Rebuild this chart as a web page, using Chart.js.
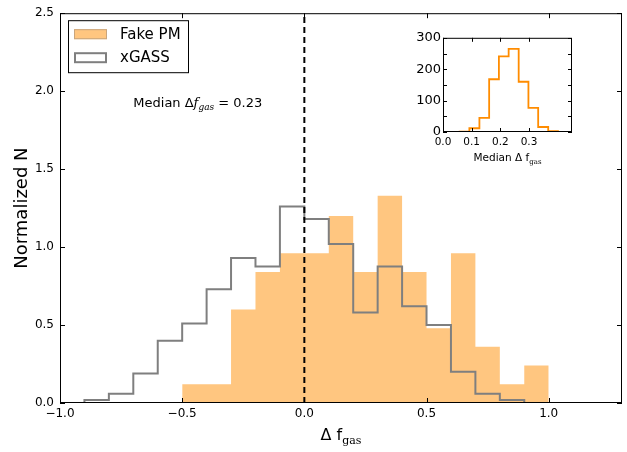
<!DOCTYPE html>
<html lang="en">
<head>
  <meta charset="UTF-8">
  <title>Delta f_gas histogram</title>
  <script src="https://cdn.jsdelivr.net/npm/chart.js@4"></script>
  <style>
    html, body { margin: 0; padding: 0; background: #fff; }
    #wrap { position: relative; width: 627px; height: 452px; }
    #mainChart { position: absolute; left: 0; top: 0; }
    #insetChart { position: absolute; left: 400px; top: 28px; }
  </style>
</head>
<body>
  <div id="wrap">
    <canvas id="mainChart" width="627" height="452"></canvas>
    <canvas id="insetChart" width="185" height="145"></canvas>
  </div>
  <script>
    // main histogram: bin edges and normalized heights
    const fakeEdges = [-0.5, -0.4, -0.3, -0.2, -0.1, 0.0, 0.1, 0.2, 0.3, 0.4, 0.5, 0.6, 0.7, 0.8, 0.9, 1.0];
    const fakeValues = [0.12, 0.12, 0.60, 0.84, 0.96, 0.96, 1.20, 0.84, 1.33, 0.84, 0.48, 0.96, 0.36, 0.12, 0.24];
    const xgassEdges = [-0.9, -0.8, -0.7, -0.6, -0.5, -0.4, -0.3, -0.2, -0.1, 0.0, 0.1, 0.2, 0.3, 0.4, 0.5, 0.6, 0.7, 0.8, 0.9];
    const xgassValues = [0.02, 0.06, 0.19, 0.40, 0.51, 0.73, 0.93, 0.875, 1.26, 1.18, 1.02, 0.58, 0.875, 0.62, 0.50, 0.20, 0.06, 0.02];
    const medianDelta = 0.23;

    // inset: distribution of the median
    const insetEdges = [0.058, 0.092, 0.127, 0.161, 0.195, 0.229, 0.264, 0.298, 0.332, 0.367, 0.401];
    const insetCounts = [1, 12, 45, 168, 241, 265, 160, 77, 16, 3];

    // tick labels
    const mainXTicks = [-1.0, -0.5, 0.0, 0.5, 1.0];
    const mainYTicks = [0.0, 0.5, 1.0, 1.5, 2.0, 2.5];
    const insetXTicks = [0.0, 0.1, 0.2, 0.3];
    const insetYTicks = [0, 50, 100, 150, 200, 250, 300];

    const FONT = "'DejaVu Sans', sans-serif";
    const SERIF = "'DejaVu Serif', serif";
    const ORANGE_FILL = '#ffc680';
    const GREY = '#7f7f7f';

    // corners of a step histogram outline
    const stepOutline = (edges, values) => {
      const pts = [{ x: edges[0], y: 0 }];
      values.forEach((v, i) => {
        pts.push({ x: edges[i], y: v });
        pts.push({ x: edges[i + 1], y: v });
      });
      pts.push({ x: edges[edges.length - 1], y: 0 });
      return pts;
    };

    const fmt = v => (v < 0 ? '\u2212' : '') + Math.abs(v).toFixed(1);

    // box around the axes with inward ticks on all four sides
    const drawFrame = (chart, xTicks, yTicks, len) => {
      const { ctx, chartArea: a, scales } = chart;
      ctx.save();
      ctx.strokeStyle = '#000';
      ctx.lineWidth = 1;
      ctx.strokeRect(a.left + 0.5, a.top + 0.5, a.right - a.left - 1, a.bottom - a.top - 1);
      ctx.beginPath();
      xTicks.forEach(v => {
        const px = Math.round(scales.x.getPixelForValue(v)) + 0.5;
        ctx.moveTo(px, a.bottom); ctx.lineTo(px, a.bottom - len);
        ctx.moveTo(px, a.top); ctx.lineTo(px, a.top + len);
      });
      yTicks.forEach(v => {
        const py = Math.round(scales.y.getPixelForValue(v)) + 0.5;
        ctx.moveTo(a.left, py); ctx.lineTo(a.left + len, py);
        ctx.moveTo(a.right, py); ctx.lineTo(a.right - len, py);
      });
      ctx.stroke();
      ctx.restore();
    };

    // writes pieces of text one after another, each with its own font and vertical shift
    const drawRuns = (ctx, x, y, runs, align) => {
      let total = 0;
      runs.forEach(r => { ctx.font = r.font; total += ctx.measureText(r.text).width; });
      let cx = align === 'center' ? x - total / 2 : x;
      ctx.textBaseline = 'alphabetic';
      ctx.textAlign = 'left';
      runs.forEach(r => {
        ctx.font = r.font;
        ctx.fillText(r.text, cx, y + (r.dy || 0));
        cx += ctx.measureText(r.text).width;
      });
    };

    const mainDecor = {
      id: 'mainDecor',
      afterDraw(chart) {
        const { ctx, chartArea: a, scales } = chart;
        drawFrame(chart, mainXTicks, mainYTicks, 5);
        ctx.save();
        ctx.fillStyle = '#000';

        // axis titles
        drawRuns(ctx, (a.left + a.right) / 2, 440, [
          { text: '\u0394 f', font: '16px ' + FONT },
          { text: 'gas', font: '11px ' + SERIF, dy: 4 }
        ], 'center');
        ctx.save();
        ctx.translate(22, (a.top + a.bottom) / 2);
        ctx.rotate(-Math.PI / 2);
        ctx.font = '18px ' + FONT;
        ctx.textAlign = 'center';
        ctx.textBaseline = 'middle';
        ctx.fillText('Normalized N', 0, 0);
        ctx.restore();

        // median annotation
        drawRuns(ctx, scales.x.getPixelForValue(-0.7), scales.y.getPixelForValue(1.9), [
          { text: 'Median \u0394', font: '13px ' + FONT },
          { text: 'f', font: 'italic 13px ' + SERIF },
          { text: 'gas', font: 'italic 9px ' + SERIF, dy: 3 },
          { text: ' = ' + medianDelta.toFixed(2), font: '13px ' + FONT }
        ], 'left');

        // legend
        const lx = a.left + 8, ly = a.top + 7;
        ctx.fillStyle = '#fff';
        ctx.fillRect(lx, ly, 120, 52);
        ctx.strokeStyle = '#000';
        ctx.lineWidth = 1;
        ctx.strokeRect(lx + 0.5, ly + 0.5, 120, 52);
        const items = chart.data.datasets.filter(d => d.inLegend).sort((p, q) => p.legendRank - q.legendRank);
        items.forEach((d, i) => {
          const ry = ly + 9 + i * 23;
          if (d.fill) {
            ctx.fillStyle = d.backgroundColor;
            ctx.fillRect(lx + 6, ry, 33, 10);
            ctx.strokeStyle = '#c9a57c';
            ctx.lineWidth = 1;
            ctx.strokeRect(lx + 6.5, ry + 0.5, 32, 9);
          } else {
            ctx.strokeStyle = d.borderColor;
            ctx.lineWidth = 2;
            ctx.strokeRect(lx + 7, ry + 1, 31, 9);
          }
          ctx.fillStyle = '#000';
          ctx.font = '15px ' + FONT;
          ctx.textBaseline = 'middle';
          ctx.textAlign = 'left';
          ctx.fillText(d.label, lx + 52, ry + 6);
        });
        ctx.restore();
      }
    };

    const axisFont = { family: FONT, size: 12 };

    new Chart(document.getElementById('mainChart'), {
      type: 'line',
      data: {
        datasets: [
          {
            label: 'median',
            data: [{ x: 0, y: 0 }, { x: 0, y: 2.5 }],
            borderColor: '#000',
            borderWidth: 2,
            borderDash: [6, 4],
            pointRadius: 0,
            order: 0
          },
          {
            label: 'xGASS',
            inLegend: true,
            legendRank: 2,
            data: stepOutline(xgassEdges, xgassValues),
            borderColor: GREY,
            borderWidth: 2,
            fill: false,
            pointRadius: 0,
            order: 1
          },
          {
            label: 'Fake PM',
            inLegend: true,
            legendRank: 1,
            data: stepOutline(fakeEdges, fakeValues),
            backgroundColor: ORANGE_FILL,
            borderWidth: 0,
            borderColor: 'rgba(0,0,0,0)',
            fill: 'origin',
            pointRadius: 0,
            order: 2
          }
        ]
      },
      options: {
        responsive: false,
        animation: false,
        devicePixelRatio: 1,
        elements: { line: { tension: 0 } },
        layout: { padding: { top: 10, right: 5, left: 0, bottom: 0 } },
        plugins: { legend: { display: false }, tooltip: { enabled: false } },
        scales: {
          x: {
            type: 'linear',
            min: -1.0,
            max: 1.3,
            grid: { display: false, drawTicks: false },
            border: { display: false },
            afterBuildTicks: s => { s.ticks = mainXTicks.map(v => ({ value: v })); },
            afterFit: s => { s.height = 49; },
            ticks: { font: axisFont, color: '#000', padding: 4, maxRotation: 0, callback: fmt }
          },
          y: {
            type: 'linear',
            min: 0,
            max: 2.5,
            grid: { display: false, drawTicks: false },
            border: { display: false },
            afterBuildTicks: s => { s.ticks = mainYTicks.map(v => ({ value: v })); },
            afterFit: s => { s.width = 60; },
            ticks: { font: axisFont, color: '#000', padding: 6, callback: fmt }
          }
        }
      },
      plugins: [mainDecor]
    });

    const insetDecor = {
      id: 'insetDecor',
      afterDraw(chart) {
        const { ctx, chartArea: a } = chart;
        drawFrame(chart, insetXTicks, insetYTicks, 4);
        ctx.save();
        ctx.fillStyle = '#000';
        drawRuns(ctx, (a.left + a.right) / 2, 133, [
          { text: 'Median \u0394 f', font: '10.5px ' + FONT },
          { text: 'gas', font: '7px ' + SERIF, dy: 3 }
        ], 'center');
        ctx.restore();
      }
    };

    new Chart(document.getElementById('insetChart'), {
      type: 'line',
      data: {
        datasets: [{
          label: 'median distribution',
          data: stepOutline(insetEdges, insetCounts),
          borderColor: '#ff8c00',
          borderWidth: 1.8,
          fill: false,
          pointRadius: 0
        }]
      },
      options: {
        responsive: false,
        animation: false,
        devicePixelRatio: 1,
        elements: { line: { tension: 0 } },
        layout: { padding: { top: 8, right: 13, left: 0, bottom: 0 } },
        plugins: { legend: { display: false }, tooltip: { enabled: false } },
        scales: {
          x: {
            type: 'linear',
            min: 0,
            max: 0.45,
            grid: { display: false, drawTicks: false },
            border: { display: false },
            afterBuildTicks: s => { s.ticks = insetXTicks.map(v => ({ value: v })); },
            afterFit: s => { s.height = 41; },
            ticks: { font: { family: FONT, size: 10.5 }, color: '#000', padding: 4, maxRotation: 0, callback: v => v.toFixed(1) }
          },
          y: {
            type: 'linear',
            min: 0,
            max: 300,
            grid: { display: false, drawTicks: false },
            border: { display: false },
            afterBuildTicks: s => { s.ticks = insetYTicks.map(v => ({ value: v })); },
            afterFit: s => { s.width = 43; },
            ticks: { font: { family: FONT, size: 13 }, color: '#000', padding: 2 }
          }
        }
      },
      plugins: [insetDecor]
    });
  </script>
</body>
</html>
